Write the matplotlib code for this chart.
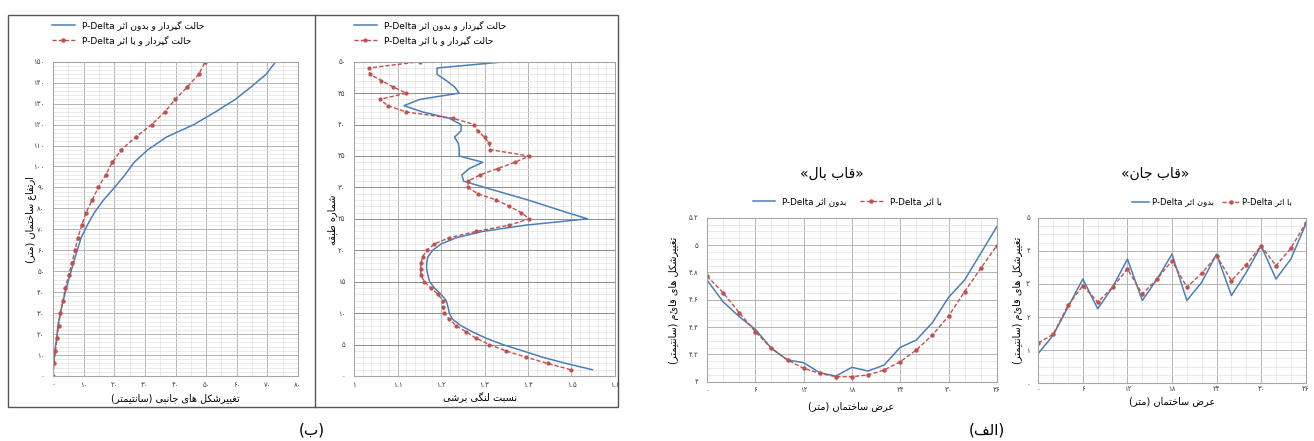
import matplotlib
matplotlib.use('Agg')
import matplotlib.pyplot as plt
from matplotlib.ticker import MultipleLocator, FixedLocator, FixedFormatter
from matplotlib.patches import Rectangle
from matplotlib.lines import Line2D

plt.rcParams['font.family'] = ['DejaVu Sans']

# ---------------- data ----------------
# panel (ب) left: lateral drift vs height
height_m = [0, 6, 12, 18, 24, 30, 36, 42, 48, 54, 60, 66, 72, 78, 84,
            90, 96, 102, 108, 114, 120, 126, 132, 138, 144, 150]
drift_no_pd = [0, 0.2, 0.6, 1.2, 1.6, 2.4, 3.3, 4.4, 5.5, 6.7, 7.9, 9.2, 11.2, 13.5,
               16.5, 20.1, 23.5, 26.5, 31.0, 37.0, 46.0, 53.0, 59.5, 64.7, 69.6, 72.7]
drift_pd = [0, 0.3, 0.8, 1.3, 1.8, 2.4, 3.3, 4.0, 5.1, 6.2, 7.2, 8.1, 9.4, 10.8,
            12.8, 14.8, 17.2, 19.4, 22.3, 27.0, 32.2, 36.5, 39.9, 43.9, 47.6, 49.7]

# panel (ب) right: shear lag ratio per storey
storey = list(range(1, 51))
lag_no_pd = [1.548, 1.487, 1.433, 1.388, 1.342, 1.304, 1.273, 1.246, 1.227, 1.219,
             1.216, 1.212, 1.200, 1.185, 1.174, 1.170, 1.167, 1.167, 1.170, 1.181,
             1.200, 1.235, 1.296, 1.395, 1.537, 1.490, 1.445, 1.400, 1.350, 1.300,
             1.252, 1.248, 1.265, 1.296, 1.242, 1.242, 1.240, 1.231, 1.246, 1.246,
             1.219, 1.158, 1.115, 1.151, 1.242, 1.231, 1.212, 1.191, 1.191, 1.349]
lag_pd = [1.498, 1.445, 1.395, 1.349, 1.311, 1.281, 1.258, 1.235, 1.219, 1.208,
          1.204, 1.204, 1.193, 1.177, 1.162, 1.154, 1.153, 1.154, 1.158, 1.167,
          1.185, 1.219, 1.281, 1.357, 1.403, 1.384, 1.357, 1.327, 1.284, 1.262,
          1.262, 1.290, 1.330, 1.370, 1.403, 1.313, 1.311, 1.300, 1.284, 1.277,
          1.227, 1.120, 1.078, 1.059, 1.120, 1.089, 1.063, 1.036, 1.034, 1.151]

# panel (الف): vertical deformation along building width
width_m = [0, 2, 4, 6, 8, 10, 12, 14, 16, 18, 20, 22, 24, 26, 28, 30, 32, 34, 36]
flange_no_pd = [4.744, 4.585, 4.476, 4.383, 4.244, 4.159, 4.139, 4.066, 4.041, 4.105,
                4.078, 4.122, 4.251, 4.305, 4.432, 4.617, 4.744, 4.939, 5.134]
flange_pd = [4.773, 4.651, 4.505, 4.366, 4.244, 4.159, 4.098, 4.061, 4.037, 4.037,
             4.049, 4.085, 4.146, 4.232, 4.341, 4.480, 4.659, 4.829, 4.995]
web_no_pd = [0.90, 1.45, 2.30, 3.15, 2.25, 2.90, 3.75, 2.50, 3.15, 3.90,
             2.50, 3.05, 3.90, 2.65, 3.35, 4.15, 3.15, 3.75, 4.80]
web_pd = [1.22, 1.48, 2.35, 2.95, 2.45, 2.90, 3.45, 2.70, 3.15, 3.70,
          2.90, 3.32, 3.85, 3.10, 3.58, 4.15, 3.55, 4.08, 4.83]

p1_xticks = [0, 10, 20, 30, 40, 50, 60, 70, 80]
p1_yticks = [0, 10, 20, 30, 40, 50, 60, 70, 80, 90, 100, 110, 120, 130, 140, 150]
p2_xticks = [1.0, 1.1, 1.2, 1.3, 1.4, 1.5, 1.6]
p2_xtick_text = ['1', '1.1', '1.2', '1.3', '1.4', '1.5', '1.6']
p2_yticks = [0, 5, 10, 15, 20, 25, 30, 35, 40, 45, 50]
p3_xticks = [0, 6, 12, 18, 24, 30, 36]
p3_yticks = [4.0, 4.2, 4.4, 4.6, 4.8, 5.0, 5.2]
p3_ytick_text = ['4', '4.2', '4.4', '4.6', '4.8', '5', '5.2']
p4_yticks = [0, 1, 2, 3, 4, 5]

# ---------------- persian text helpers ----------------
DUAL = {'ب': 0xFE8F, 'ت': 0xFE95, 'ث': 0xFE99, 'ج': 0xFE9D, 'ح': 0xFEA1, 'خ': 0xFEA5,
        'س': 0xFEB1, 'ش': 0xFEB5, 'ص': 0xFEB9, 'ض': 0xFEBD, 'ط': 0xFEC1, 'ظ': 0xFEC5,
        'ع': 0xFEC9, 'غ': 0xFECD, 'ف': 0xFED1, 'ق': 0xFED5, 'ل': 0xFEDD, 'م': 0xFEE1,
        'ن': 0xFEE5, 'ه': 0xFEE9, 'پ': 0xFB56, 'چ': 0xFB7A, 'ک': 0xFB8E, 'گ': 0xFB92,
        'ی': 0xFBFC}
RIGHT = {'ا': 0xFE8D, 'آ': 0xFE81, 'د': 0xFEA9, 'ذ': 0xFEAB, 'ر': 0xFEAD, 'ز': 0xFEAF,
         'و': 0xFEED, 'ژ': 0xFB8A}
MIRROR = {'(': ')', ')': '(', '«': '»', '»': '«'}
FA_DIGITS = str.maketrans('0123456789', '۰۱۲۳۴۵۶۷۸۹')


def fa(text):
    out = []
    for i, c in enumerate(text):
        prev = text[i - 1] if i > 0 else ''
        nxt = text[i + 1] if i + 1 < len(text) else ''
        jp = prev in DUAL
        if c in DUAL:
            jn = nxt in DUAL or nxt in RIGHT
            base = DUAL[c]
            code = base + (3 if jp and jn else 1 if jp else 2 if jn else 0)
            out.append(chr(code))
        elif c in RIGHT:
            out.append(chr(RIGHT[c] + (1 if jp else 0)))
        else:
            out.append(c)
    return ''.join(MIRROR.get(c, c) for c in reversed(out))


def fa_num(vals):
    return [str(v).translate(FA_DIGITS) for v in vals]


def px(x, y):
    return x / 1314, 1 - y / 441


BLUE = '#4a7ebb'
RED = '#c0504d'


def style(ax, xmaj, xmin, ymaj, ymin, ymaj_col='#b4b4b4'):
    ax.xaxis.set_minor_locator(MultipleLocator(xmin))
    ax.yaxis.set_minor_locator(MultipleLocator(ymin))
    ax.grid(which='major', axis='x', color='#b4b4b4', lw=0.7)
    ax.grid(which='major', axis='y', color=ymaj_col, lw=0.7)
    ax.grid(which='minor', color='#e2e2e2', lw=0.5)
    ax.set_axisbelow(True)
    ax.tick_params(which='both', length=0, labelsize=5, colors='#404040')
    ax.tick_params(axis='x', pad=4)
    ax.tick_params(axis='y', pad=6)
    for s in ax.spines.values():
        s.set_color('#a6a6a6')
        s.set_linewidth(0.8)


fig = plt.figure(figsize=(13.14, 4.41), dpi=100)

# border of block (ب)
fig.add_artist(Rectangle(px(8, 407), 610 / 1314, 392 / 441, transform=fig.transFigure,
                         fill=False, ec='#555555', lw=1.0))
fig.add_artist(Line2D([315 / 1314, 315 / 1314], [px(0, 407)[1], px(0, 15)[1]],
                      transform=fig.transFigure, color='#555555', lw=1.0))

# ---- panel 1 ----
l, b = px(53, 376)
ax1 = fig.add_axes([l, b, 245 / 1314, 314.3 / 441])
ax1.plot(drift_no_pd, height_m, color=BLUE, lw=1.1, label='P-Delta ' + fa('حالت گیردار و بدون اثر'))
ax1.plot(drift_pd, height_m, color=RED, lw=1.0, ls=(0, (3, 1.5)), marker='o', ms=2.2,
         label='P-Delta ' + fa('حالت گیردار و با اثر'))
ax1.set_xlim(0, 80)
ax1.set_ylim(0, 150)
ax1.xaxis.set_major_locator(FixedLocator(p1_xticks))
ax1.xaxis.set_major_formatter(FixedFormatter(fa_num(p1_xticks)))
ax1.yaxis.set_major_locator(FixedLocator(p1_yticks))
ax1.yaxis.set_major_formatter(FixedFormatter(fa_num(p1_yticks)))
style(ax1, 10, 5, 10, 2)
ax1.legend(loc='upper left', bbox_to_anchor=px(48, 17), bbox_transform=fig.transFigure,
           frameon=False, fontsize=6.5, handlelength=2.6, labelspacing=0.5, borderaxespad=0)
fig.text(*px(175, 398), fa('تغییرشکل های جانبی (سانتیمتر)'), ha='center', va='center', fontsize=7)
fig.text(*px(31, 220), fa('ارتفاع ساختمان (متر)'), ha='center', va='center', fontsize=7, rotation=90)

# ---- panel 2 ----
l, b = px(354, 376)
ax2 = fig.add_axes([l, b, 261 / 1314, 314.3 / 441])
ax2.plot(lag_no_pd, storey, color=BLUE, lw=1.1, label='P-Delta ' + fa('حالت گیردار و بدون اثر'))
ax2.plot(lag_pd, storey, color=RED, lw=1.0, ls=(0, (3, 1.5)), marker='o', ms=2.0,
         label='P-Delta ' + fa('حالت گیردار و با اثر'))
ax2.set_xlim(1, 1.6)
ax2.set_ylim(0, 50)
ax2.xaxis.set_major_locator(FixedLocator(p2_xticks))
ax2.xaxis.set_major_formatter(FixedFormatter(fa_num(p2_xtick_text)))
ax2.yaxis.set_major_locator(FixedLocator(p2_yticks))
ax2.yaxis.set_major_formatter(FixedFormatter(fa_num(p2_yticks)))
style(ax2, 0.1, 0.02, 5, 1, ymaj_col='#8c8c8c')
ax2.legend(loc='upper left', bbox_to_anchor=px(350, 17), bbox_transform=fig.transFigure,
           frameon=False, fontsize=6.5, handlelength=2.6, labelspacing=0.5, borderaxespad=0)
fig.text(*px(480, 398), fa('نسبت لنگی برشی'), ha='center', va='center', fontsize=7)
fig.text(*px(332, 220), fa('شماره طبقه'), ha='center', va='center', fontsize=7, rotation=90)

# ---- panel 3 (قاب بال) ----
l, b = px(707, 381.7)
ax3 = fig.add_axes([l, b, 289.8 / 1314, 164 / 441])
ax3.plot(width_m, flange_no_pd, color=BLUE, lw=1.1, label='P-Delta ' + fa('بدون اثر'))
ax3.plot(width_m, flange_pd, color=RED, lw=1.0, ls=(0, (3, 1.5)), marker='o', ms=2.2,
         label='P-Delta ' + fa('با اثر'))
ax3.set_xlim(0, 36)
ax3.set_ylim(4, 5.2)
ax3.xaxis.set_major_locator(FixedLocator(p3_xticks))
ax3.xaxis.set_major_formatter(FixedFormatter(fa_num(p3_xticks)))
ax3.yaxis.set_major_locator(FixedLocator(p3_yticks))
ax3.yaxis.set_major_formatter(FixedFormatter(fa_num(p3_ytick_text)))
style(ax3, 6, 2, 0.2, 0.05)
ax3.legend(loc='center', bbox_to_anchor=px(847, 202), bbox_transform=fig.transFigure, ncol=2,
           frameon=False, fontsize=6.3, handlelength=2.6, columnspacing=1.5, borderaxespad=0)
fig.text(*px(832, 174), fa('«قاب بال»'), ha='center', va='center', fontsize=10)
fig.text(*px(851, 406), fa('عرض ساختمان (متر)'), ha='center', va='center', fontsize=7)
fig.text(*px(674, 300), fa('تغییرشکل های قائم (سانتیمتر)'), ha='center', va='center',
         fontsize=7, rotation=90)

# ---- panel 4 (قاب جان) ----
l, b = px(1038.3, 383.3)
ax4 = fig.add_axes([l, b, 267.4 / 1314, 165.6 / 441])
ax4.plot(width_m, web_no_pd, color=BLUE, lw=1.1, label='P-Delta ' + fa('بدون اثر'))
ax4.plot(width_m, web_pd, color=RED, lw=1.0, ls=(0, (3, 1.5)), marker='o', ms=2.2,
         label='P-Delta ' + fa('با اثر'))
ax4.set_xlim(0, 36)
ax4.set_ylim(0, 5)
ax4.xaxis.set_major_locator(FixedLocator(p3_xticks))
ax4.xaxis.set_major_formatter(FixedFormatter(fa_num(p3_xticks)))
ax4.yaxis.set_major_locator(FixedLocator(p4_yticks))
ax4.yaxis.set_major_formatter(FixedFormatter(fa_num(p4_yticks)))
style(ax4, 6, 2, 1, 0.25)
ax4.tick_params(axis='x', pad=2)
ax4.legend(loc='center', bbox_to_anchor=px(1212, 202), bbox_transform=fig.transFigure, ncol=2,
           frameon=False, fontsize=6, handlelength=2.0, handletextpad=0.4, columnspacing=1.0,
           borderaxespad=0)
fig.text(*px(1155, 174), fa('«قاب جان»'), ha='center', va='center', fontsize=10)
fig.text(*px(1172, 401), fa('عرض ساختمان (متر)'), ha='center', va='center', fontsize=7)
fig.text(*px(1018, 300), fa('تغییرشکل های قائم (سانتیمتر)'), ha='center', va='center',
         fontsize=7, rotation=90)

# captions
fig.text(*px(312, 430), fa('(ب)'), ha='center', va='center', fontsize=11)
fig.text(*px(987, 430), fa('(الف)'), ha='center', va='center', fontsize=11)

fig.savefig('out.png', dpi=100)
